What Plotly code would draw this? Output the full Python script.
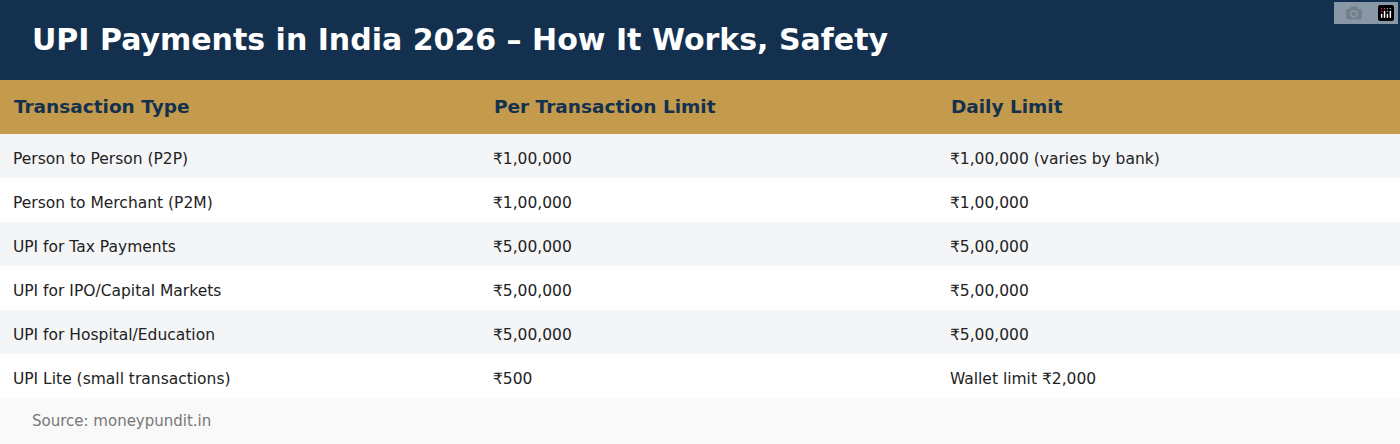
import plotly.graph_objects as go

title = "UPI Payments in India 2026 – How It Works, Safety"
source = "Source: moneypundit.in"

headers = ["Transaction Type", "Per Transaction Limit", "Daily Limit"]
txn_types = [
    "Person to Person (P2P)",
    "Person to Merchant (P2M)",
    "UPI for Tax Payments",
    "UPI for IPO/Capital Markets",
    "UPI for Hospital/Education",
    "UPI Lite (small transactions)",
]
per_txn = ["₹1,00,000", "₹1,00,000", "₹5,00,000", "₹5,00,000", "₹5,00,000", "₹500"]
daily = [
    "₹1,00,000 (varies by bank)",
    "₹1,00,000",
    "₹5,00,000",
    "₹5,00,000",
    "₹5,00,000",
    "Wallet limit ₹2,000",
]

W, H = 1400, 444
TITLE_H, HEAD_H, ROW_H = 80, 54, 44
TEXT_SHIFT = 8  # push text down so it sits centred in each band


def py(px_from_top):
    return (H - px_from_top) / H


def pad(s):
    return "&nbsp;" + s


table_top = TITLE_H + TEXT_SHIFT
table_bottom = table_top + HEAD_H + ROW_H * len(txn_types)

fig = go.Figure(
    go.Table(
        domain=dict(x=[0, 1], y=[py(table_bottom), py(table_top)]),
        columnwidth=[480, 457, 463],
        header=dict(
            values=[pad(f"<b>{h}</b>") for h in headers],
            fill_color="rgba(0,0,0,0)",
            line_color="rgba(0,0,0,0)",
            font=dict(family="DejaVu Sans", size=18.5, color="#13314F"),
            align="left",
            height=HEAD_H,
        ),
        cells=dict(
            values=[[pad(v) for v in col] for col in (txn_types, per_txn, daily)],
            fill_color="rgba(0,0,0,0)",
            line_color="rgba(0,0,0,0)",
            font=dict(family="DejaVu Sans", size=15.5, color="#222222"),
            align="left",
            height=ROW_H,
        ),
    )
)

# background bands
rows_top = TITLE_H + HEAD_H
rows_end = rows_top + ROW_H * len(txn_types)
bands = [(0, TITLE_H, "#13314F"), (TITLE_H, rows_top, "#C49A4C"), (rows_end, H, "#F9F9F9")]
for i in range(len(txn_types)):
    top = rows_top + i * ROW_H
    bands.append((top, top + ROW_H, "#F4F5F7" if i % 2 == 0 else "#FFFFFF"))
for top, bottom, color in bands:
    fig.add_shape(type="rect", xref="paper", yref="paper", x0=0, x1=1,
                  y0=py(bottom), y1=py(top), fillcolor=color, line_width=0, layer="below")

fig.add_annotation(text=f"<b>{title}</b>", xref="paper", yref="paper",
                   x=30 / W, y=py(TITLE_H / 2), xanchor="left", yanchor="middle",
                   showarrow=False, font=dict(family="DejaVu Sans", size=30, color="white"))
fig.add_annotation(text=source, xref="paper", yref="paper",
                   x=30 / W, y=py((rows_end + H) / 2), xanchor="left", yanchor="middle",
                   showarrow=False, font=dict(family="DejaVu Sans", size=15, color="#777777"))

fig.update_layout(width=W, height=H, margin=dict(l=0, r=0, t=0, b=0),
                  paper_bgcolor="white")

fig.write_html("out.html", post_script="document.body.style.margin='0';")
